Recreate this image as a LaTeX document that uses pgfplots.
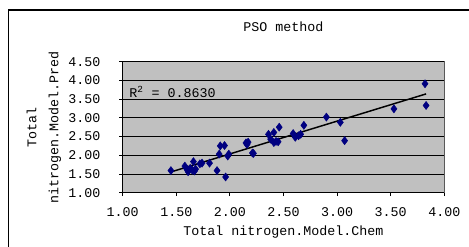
\documentclass[border=0pt]{standalone}
\usepackage{fontspec}
\setmainfont{Liberation Mono}
\usepackage{graphicx}
\usepackage{pgfplots}
\pgfplotsset{compat=1.18}
\definecolor{plotbg}{RGB}{192,192,192}
\definecolor{mark}{RGB}{0,0,128}
\begin{document}
\begin{tikzpicture}
\begin{axis}[
  at={(0,0)}, anchor=south west,
  scale only axis,
  width=241.2pt, height=98.25pt,
  xmin=1, xmax=4, ymin=1, ymax=4.5,
  xtick={1,1.5,...,4}, ytick={1,1.5,...,4.5},
  axis x line*=bottom, axis y line*=left,
  axis line style={-, black, line width=0.8pt},
  axis background/.style={fill=plotbg, draw=gray!70!black, line width=0.6pt},
  ymajorgrids, grid style={black, line width=0.6pt},
  tick align=outside, major tick length=2.5pt,
  tick style={black, line width=0.6pt},
  /pgf/number format/assume math mode=true,
  /pgf/number format/.cd, fixed, fixed zerofill, precision=2, /pgfplots/.cd,
  ticklabel style={font=\fontsize{10}{12}\selectfont},
  xticklabel style={anchor=center, inner sep=0pt, yshift=-12pt},
  yticklabel style={anchor=east, inner sep=0pt, xshift=-14pt},
  xlabel={Total nitrogen.Model.Chem},
  every axis x label/.style={at={(axis description cs:0.5,-0.3003)}, anchor=center},
  every axis title shift=0pt,
  title={PSO method},
  every axis title/.style={at={(axis description cs:0.5,1.2646)}, anchor=center},
  clip=false,
]
\addplot[only marks, mark=diamond*, mark size=3pt, mark options={fill=mark, draw=mark}, color=mark] coordinates {
(1.45,1.59) (1.58,1.71) (1.60,1.62) (1.61,1.56) (1.63,1.65) (1.65,1.60)
(1.66,1.83) (1.67,1.58) (1.68,1.63) (1.72,1.77) (1.74,1.79) (1.81,1.79)
(1.88,1.59) (1.90,2.03) (1.91,2.25) (1.95,2.26) (1.96,1.42) (1.98,1.98)
(1.99,2.03) (2.15,2.33) (2.16,2.29) (2.17,2.35) (2.21,2.06) (2.22,2.05)
(2.36,2.56) (2.38,2.43) (2.41,2.61) (2.41,2.34) (2.43,2.37) (2.45,2.36)
(2.46,2.75) (2.59,2.58) (2.61,2.48) (2.64,2.52) (2.66,2.56) (2.69,2.80)
(2.90,3.02) (3.03,2.88) (3.07,2.39) (3.53,3.24) (3.82,3.91) (3.83,3.33)
};
\addplot[black, line width=1.1pt, no marks] coordinates {(1.45,1.554) (3.83,3.639)};
\node[anchor=west, inner sep=0pt] at (axis cs:1.06,3.70) {R\textsuperscript{2} = 0.8630};
\end{axis}
\node[anchor=center, inner sep=0pt] at (-59.8pt,49.1pt) {\rotatebox{90}{\renewcommand{\arraystretch}{1.375}\begin{tabular}{@{}c@{}}Total\\nitrogen.Model.Pred\end{tabular}}};
\draw[black, line width=0.8pt] (-85.8pt,-60pt) rectangle (280pt,137pt);
\pgfresetboundingbox
\path[use as bounding box] (-92.0pt,-40.7pt) rectangle (259.7pt,144.5pt);
\end{tikzpicture}
\end{document}
